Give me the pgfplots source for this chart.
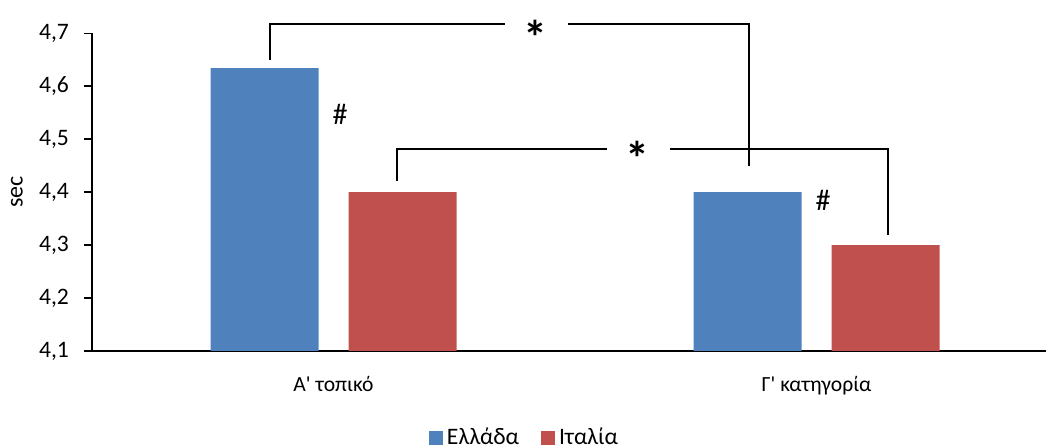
\documentclass[border=0pt]{standalone}
\usepackage{fontspec}
\setmainfont{Carlito}
\usepackage{pgfplots}
\pgfplotsset{compat=1.18}

\definecolor{grblue}{HTML}{4F81BD}
\definecolor{itred}{HTML}{C0504D}

\begin{document}
\begin{tikzpicture}
\begin{axis}[
  scale only axis,
  width=477pt, height=158.85pt,
  ybar=15pt, bar width=54pt,
  xmin=-0.5, xmax=1.475,
  ymin=4.1, ymax=4.7,
  ytick={4.1,4.2,4.3,4.4,4.5,4.6,4.7},
  xtick={0,1},
  xticklabels={Α\textquotesingle{} τοπικό, Γ\textquotesingle{} κατηγορία},
  axis x line*=bottom, axis y line*=left,
  axis line style={-, line width=0.9pt},
  tick align=outside,
  major tick length=4pt,
  xtick style={draw=none},
  ytick style={line width=0.8pt, black},
  /pgf/number format/.cd, use comma, fixed, fixed zerofill, precision=1, assume math mode=true,
  /pgfplots/.cd,
  yticklabel style={font=\fontsize{11.8}{13}\selectfont, xshift=-4pt},
  xticklabel style={font=\fontsize{10.8}{12}\selectfont, anchor=base, yshift=-16.5pt},
  ylabel={sec},
  ylabel style={font=\fontsize{12}{13}\selectfont, at={(axis description cs:-0.0786,0.5)}, anchor=center},
  clip=false,
  legend columns=2,
  legend style={draw=none, fill=none, at={(axis description cs:0.4544,-0.274)}, anchor=center,
    font=\fontsize{11.8}{12}\selectfont,
    /tikz/every even column/.append style={column sep=9pt}},
]
\addplot[fill=grblue, draw=none,
  legend image code/.code={\fill[grblue] (0pt,-3.5pt) rectangle (7pt,3.5pt);}]
  coordinates {(0,4.634) (1,4.4)};
\addplot[fill=itred, draw=none,
  legend image code/.code={\fill[itred] (0pt,-3.5pt) rectangle (7pt,3.5pt);}]
  coordinates {(0,4.4) (1,4.3)};
\legend{Ελλάδα, Ιταλία}

% significance brackets
\draw[line width=0.75pt] (axis cs:-0.132,4.650) -- (axis cs:-0.132,4.718) -- (axis cs:0.355,4.718);
\draw[line width=0.75pt] (axis cs:0.4855,4.718) -- (axis cs:0.860,4.718) -- (axis cs:0.860,4.4495);
\node[font=\fontsize{24}{24}\selectfont\bfseries, inner sep=0pt, yshift=-3.5pt] at (axis cs:0.4186,4.705) {*};

\draw[line width=0.75pt] (axis cs:0.1315,4.421) -- (axis cs:0.1315,4.4815) -- (axis cs:0.5656,4.4815);
\draw[line width=0.75pt] (axis cs:0.6967,4.4815) -- (axis cs:1.148,4.4815) -- (axis cs:1.148,4.319);
\node[font=\fontsize{24}{24}\selectfont\bfseries, inner sep=0pt, yshift=-3.5pt] at (axis cs:0.6298,4.4765) {*};

\node[font=\fontsize{15}{15}\selectfont, inner sep=0pt] at (axis cs:0.0135,4.546) {\#};
\node[font=\fontsize{15}{15}\selectfont, inner sep=0pt] at (axis cs:1.0135,4.385) {\#};

\coordinate (sw) at (rel axis cs:0,0);
\end{axis}
\pgfresetboundingbox
\path[use as bounding box] (sw) ++(-46pt,-48.5pt) rectangle ++(523pt,224pt);
\end{tikzpicture}
\end{document}
